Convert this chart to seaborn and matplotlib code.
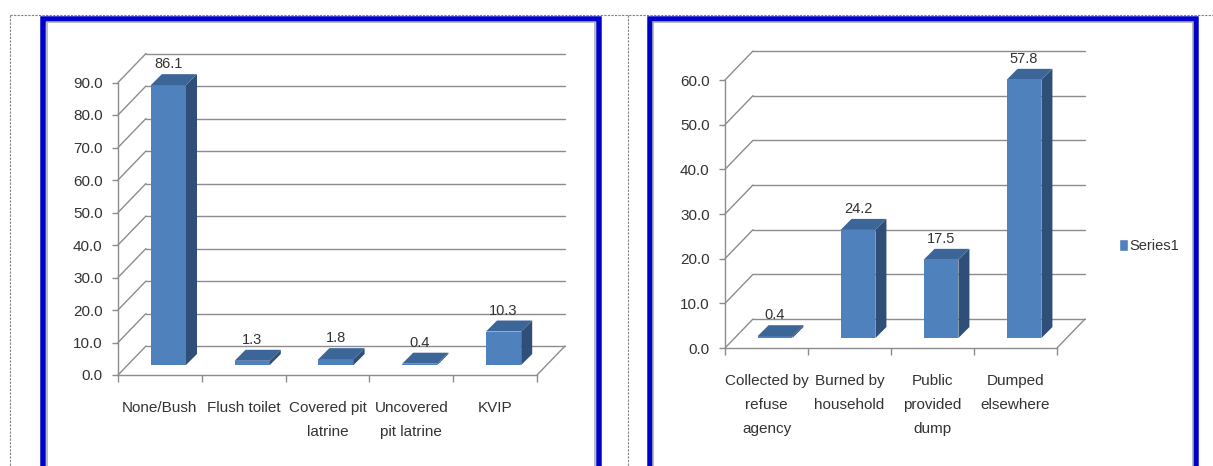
import numpy as np
import pandas as pd
import matplotlib
matplotlib.use("Agg")
import matplotlib.pyplot as plt
import matplotlib.transforms as mtransforms
from matplotlib.lines import Line2D
from matplotlib.patches import Polygon, Rectangle, Patch
import seaborn as sns

# data
toilet_cats = ["None/Bush", "Flush toilet", "Covered pit\nlatrine", "Uncovered\npit latrine", "KVIP"]
toilet_vals = [86.1, 1.3, 1.8, 0.4, 10.3]
toilet_ticks = [0, 10, 20, 30, 40, 50, 60, 70, 80, 90]

refuse_cats = ["Collected by\nrefuse\nagency", "Burned by\nhousehold", "Public\nprovided\ndump", "Dumped\nelsewhere"]
refuse_vals = [0.4, 24.2, 17.5, 57.8]
refuse_ticks = [0, 10, 20, 30, 40, 50, 60]
series_name = "Series1"

W, H, DPI = 1213, 466, 100
FRONT, TOP, SIDE = "#4F81BD", "#3C6598", "#2F4E78"
GRID = "#8C8C8C"
TXT = "#333333"
BLUE = "#0000CC"
DX, DY = 28, 29          # depth of the floor / back wall, pixels
SX, SY = 8.5, 10         # bars sit half way into the floor
BX, BY = 11, 11          # depth of each bar
FS = 10.5

sns.set_style("white")
plt.rcParams["font.family"] = ["Liberation Sans Narrow", "Liberation Sans", "DejaVu Sans"]

fig = plt.figure(figsize=(W / DPI, H / DPI), dpi=DPI)
ident = mtransforms.IdentityTransform()


def axes_at(x0, x1, y_zero, y_top):
    # pixel box (top-left origin) -> figure fraction
    return fig.add_axes([x0 / W, 1 - y_zero / H, (x1 - x0) / W, (y_zero - y_top) / H])


def draw_chart(ax, cats, vals, yticks):
    n = len(cats)
    df = pd.DataFrame({"cat": cats, "val": vals})
    sns.barplot(data=df, x="cat", y="val", ax=ax, color=FRONT, saturation=1,
                width=0.42, linewidth=0, zorder=3)
    ax.set_xlim(-0.5, n - 0.5)
    ax.set_ylim(0, yticks[-1])
    ax.set_facecolor("none")
    ax.set_xlabel("")
    ax.set_ylabel("")
    for s in ["top", "right"]:
        ax.spines[s].set_visible(False)
    for s in ["left", "bottom"]:
        ax.spines[s].set_color(GRID)
        ax.spines[s].set_linewidth(1.0)

    ax.set_yticks(yticks)
    ax.set_yticklabels([f"{t:.1f}" for t in yticks])
    ax.tick_params(axis="y", length=4, width=1, color=GRID, pad=7, labelsize=FS + 0.5, labelcolor=TXT, left=True)
    ax.set_xticks(range(n))
    ax.set_xticklabels(cats)
    ax.set_xticks(np.arange(-0.5, n), minor=True)
    ax.tick_params(axis="x", which="major", length=0, pad=19, labelsize=FS + 0.5, labelcolor=TXT)
    ax.tick_params(axis="x", which="minor", length=5, width=1, color=GRID, bottom=True)
    for lbl in ax.get_xticklabels():
        lbl.set_linespacing(1.9)

    # side wall diagonals and back wall gridlines
    for t in yticks:
        x0, y0 = ax.transData.transform((-0.5, t))
        x1, _ = ax.transData.transform((n - 0.5, t))
        ax.add_line(Line2D([x0, x0 + DX], [y0, y0 + DY], transform=ident, color=GRID, lw=1.0, clip_on=False, zorder=1))
        ax.add_line(Line2D([x0 + DX, x1 + DX], [y0 + DY, y0 + DY], transform=ident, color=GRID, lw=1.0, clip_on=False, zorder=1))
    x1, y0 = ax.transData.transform((n - 0.5, 0))
    ax.add_line(Line2D([x1, x1 + DX], [y0, y0 + DY], transform=ident, color=GRID, lw=1.0, clip_on=False, zorder=1))

    # bars: push the front face into the floor, then add top and side faces
    shift = ax.transData + mtransforms.ScaledTranslation(SX / DPI, SY / DPI, fig.dpi_scale_trans)
    for p, v in zip(list(ax.patches), vals):
        p.set_transform(shift)
        p.set_clip_on(False)
        xa, yb = ax.transData.transform((p.get_x(), 0))
        xb, yt = ax.transData.transform((p.get_x() + p.get_width(), p.get_height()))
        xa, xb, yb, yt = xa + SX, xb + SX, yb + SY, yt + SY
        side = [(xb, yb), (xb, yt), (xb + BX, yt + BY), (xb + BX, yb + BY)]
        top = [(xa, yt), (xb, yt), (xb + BX, yt + BY), (xa + BX, yt + BY)]
        ax.add_patch(Polygon(side, closed=True, transform=ident, facecolor=SIDE, edgecolor="none", clip_on=False, zorder=3))
        ax.add_patch(Polygon(top, closed=True, transform=ident, facecolor=TOP, edgecolor="none", clip_on=False, zorder=3))
        cx = p.get_x() + p.get_width() / 2
        ax.annotate(f"{v:.1f}", (cx, v), xytext=(SX, SY + 21), textcoords="offset pixels",
                    ha="center", va="center", fontsize=FS, color=TXT, annotation_clip=False)


ax1 = axes_at(118, 537, 375, 82.5)
draw_chart(ax1, toilet_cats, toilet_vals, toilet_ticks)

ax2 = axes_at(725, 1057, 348, 80)
draw_chart(ax2, refuse_cats, refuse_vals, refuse_ticks)
ax2.legend(handles=[Patch(facecolor=FRONT, label=series_name)], loc="center left",
           bbox_to_anchor=(1119 / W, 1 - 246 / H), bbox_transform=fig.transFigure,
           frameon=False, handlelength=0.6, handleheight=0.85, handletextpad=0.1,
           fontsize=FS, labelcolor=TXT, borderaxespad=0, borderpad=0)


def frame(x0, x1, y0, lw, color, ls="-"):
    fig.add_artist(Rectangle((x0 / W, 1 - 490 / H), (x1 - x0) / W, (490 - y0) / H,
                             transform=fig.transFigure, fill=False, edgecolor=color,
                             lw=lw * 72 / DPI, linestyle=ls))


# dotted page outlines
for xs, ys in [([10, W], [14.5, 14.5]), ([10, 10], [14.5, H]), ([628, 628], [14.5, H])]:
    fig.add_artist(Line2D([x / W for x in xs], [1 - y / H for y in ys], transform=fig.transFigure,
                          color="#808080", lw=0.8, linestyle=(0, (2, 1.2))))

# blue chart borders with thin grey inner line
frame(42.75, 599.25, 18.75, 5.5, BLUE)
frame(46.5, 595, 22.5, 1.5, "#A6A6A6")
frame(649.75, 1196.25, 18.75, 5.5, BLUE)
frame(653.2, 1192.5, 22.5, 1.5, "#A6A6A6")

fig.savefig("out.png", dpi=DPI)
